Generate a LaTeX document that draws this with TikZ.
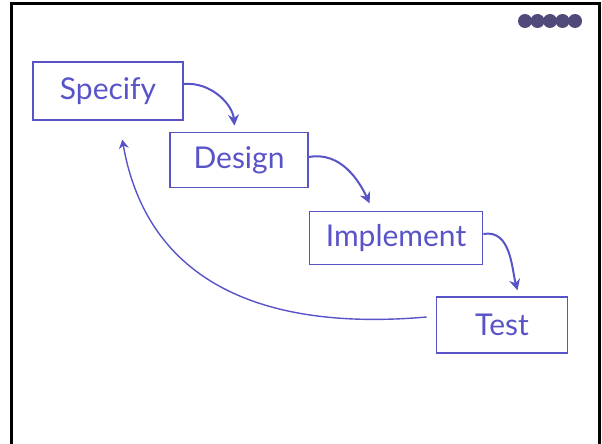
\documentclass[tikz,border=0pt]{standalone}
\usepackage{fontspec}
\setsansfont{Lato}
\usetikzlibrary{arrows.meta}

\definecolor{ink}{RGB}{88,84,200}
\definecolor{dotgray}{RGB}{80,74,122}

\tikzset{
  stage/.style={draw=ink,line width=1.8pt,text=ink,inner sep=0pt,
    font=\sffamily\fontsize{30}{30}\selectfont},
  flow/.style={draw=ink,line width=2pt,-{Stealth[length=11pt,width=11pt]}},
  back/.style={draw=ink,line width=1.4pt,-{Stealth[length=9pt,width=10pt]}}
}

\begin{document}
\begin{tikzpicture}[x=1pt,y=-1pt]
\useasboundingbox (0,0) rectangle (602,444);
% slide frame and dots
\draw[line width=3pt] (11,446) -- (11,4) -- (599,4) -- (599,446);
\foreach \i in {0,...,4}
  \fill[dotgray] (525+12.5*\i,21) circle (7);

\node[stage,minimum width=150,minimum height=58]	(spec)	at (108,91)	{Specify};
\node[stage,minimum width=138,minimum height=55]	(des)	at (239,160)	{Design};
\node[stage,minimum width=173,minimum height=53]	(impl)	at (396,238)	{Implement};
\node[stage,minimum width=131,minimum height=56]	(test)	at (502,325)	{Test};

\path	([yshift=7pt]spec.east)	edge [flow,out=5,in=95,shorten >=6pt]	([xshift=-4pt]des.north)
	([yshift=3pt]des.east)	edge [flow,out=10,in=115,shorten >=8pt]	([xshift=-23pt]impl.north)
	([yshift=4pt]impl.east)	edge [flow,out=10,in=105,shorten >=6pt]	([xshift=17pt]test.north)
	([xshift=-9pt,yshift=8pt]test.west)	edge [back,out=185,in=-80,looseness=1.15,shorten >=19pt]	([xshift=11pt]spec.south);
\end{tikzpicture}
\end{document}
